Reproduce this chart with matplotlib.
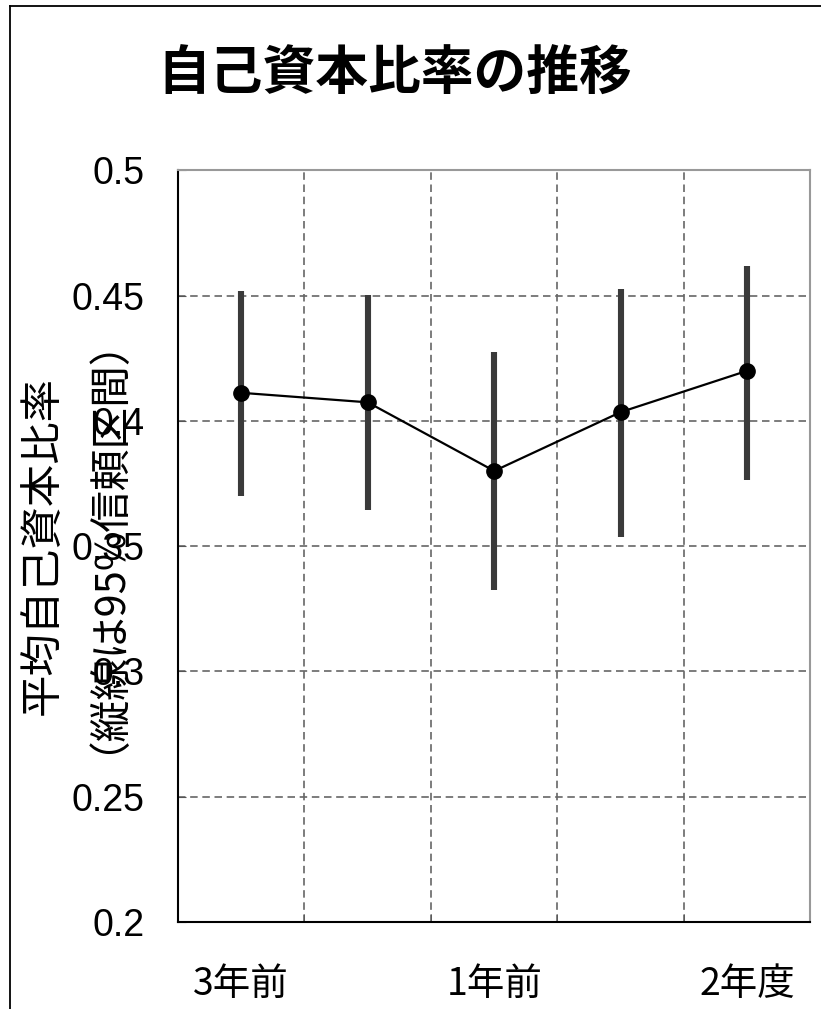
import matplotlib.pyplot as plt
from matplotlib.lines import Line2D

plt.rcParams['font.family'] = ['Noto Sans CJK JP', 'DejaVu Sans']

# 自己資本比率の平均と95%信頼区間
periods = ['3年前', '2年前', '1年前', '元年度', '2年度']
mean_ratio = [0.4112, 0.4074, 0.3800, 0.4035, 0.4200]
ci_upper = [0.4518, 0.4502, 0.4274, 0.4526, 0.4619]
ci_lower = [0.3700, 0.3646, 0.3323, 0.3536, 0.3764]
y_ticks = [0.2, 0.25, 0.3, 0.35, 0.4, 0.45, 0.5]
y_tick_labels = ['0.2', '0.25', '0.3', '0.35', '0.4', '0.45', '0.5']

x = list(range(1, len(periods) + 1))

fig = plt.figure(figsize=(8.21, 10.09), dpi=100)
ax = fig.add_axes([0.2168, 0.0865, 0.7704, 0.7446])

# 信頼区間の縦線
ax.vlines(x, ci_lower, ci_upper, color='#3a3a3a', linewidth=4.4, zorder=2)
# 平均値
ax.plot(x, mean_ratio, color='black', linewidth=1.6, marker='o',
        markersize=11, markerfacecolor='black', zorder=3)

ax.set_xlim(0.5, 5.5)
ax.set_ylim(0.2, 0.5)

ax.set_yticks(y_ticks)
ax.set_yticklabels(y_tick_labels, family=['Liberation Sans', 'DejaVu Sans'],
                   fontsize=27)
ax.set_xticks(x)
ax.set_xticklabels([p if i % 2 == 0 else '' for i, p in enumerate(periods)],
                   fontsize=27)
ax.set_xticks([1.5, 2.5, 3.5, 4.5], minor=True)

ax.tick_params(axis='x', which='major', length=0, pad=31)
ax.tick_params(axis='x', which='minor', direction='in', length=6, color='#555555')
ax.tick_params(axis='y', direction='in', length=6, pad=24, color='#555555')

ax.grid(True, axis='y', which='major', linestyle=(0, (4.5, 2.8)), color='#666666', linewidth=1.2)
ax.grid(True, axis='x', which='minor', linestyle=(0, (4.5, 2.8)), color='#666666', linewidth=1.2)

ax.spines['left'].set_color('black')
ax.spines['bottom'].set_color('black')
ax.spines['left'].set_linewidth(1.5)
ax.spines['bottom'].set_linewidth(1.5)
ax.spines['top'].set_color('#999999')
ax.spines['right'].set_color('#999999')
ax.spines['top'].set_linewidth(1.5)
ax.spines['right'].set_linewidth(1.5)

fig.text(0.481, 0.926, '自己資本比率の推移', fontsize=38, fontweight='bold',
         ha='center', va='center')

fig.text(0.052, 0.459, '平均自己資本比率', fontsize=30.5, rotation=90,
         ha='center', va='center')
fig.text(0.104, 0.48, '（縦線は95%信頼区間）', fontsize=30, rotation=90,
         ha='center', va='center')

# 外枠（左と上）
fig.add_artist(Line2D([10 / 821, 10 / 821], [0, 1 - 6 / 1009], color='black',
                      linewidth=1.3, transform=fig.transFigure))
fig.add_artist(Line2D([10 / 821, 1], [1 - 6 / 1009, 1 - 6 / 1009], color='black',
                      linewidth=1.3, transform=fig.transFigure))

fig.savefig('out.png', dpi=100)
